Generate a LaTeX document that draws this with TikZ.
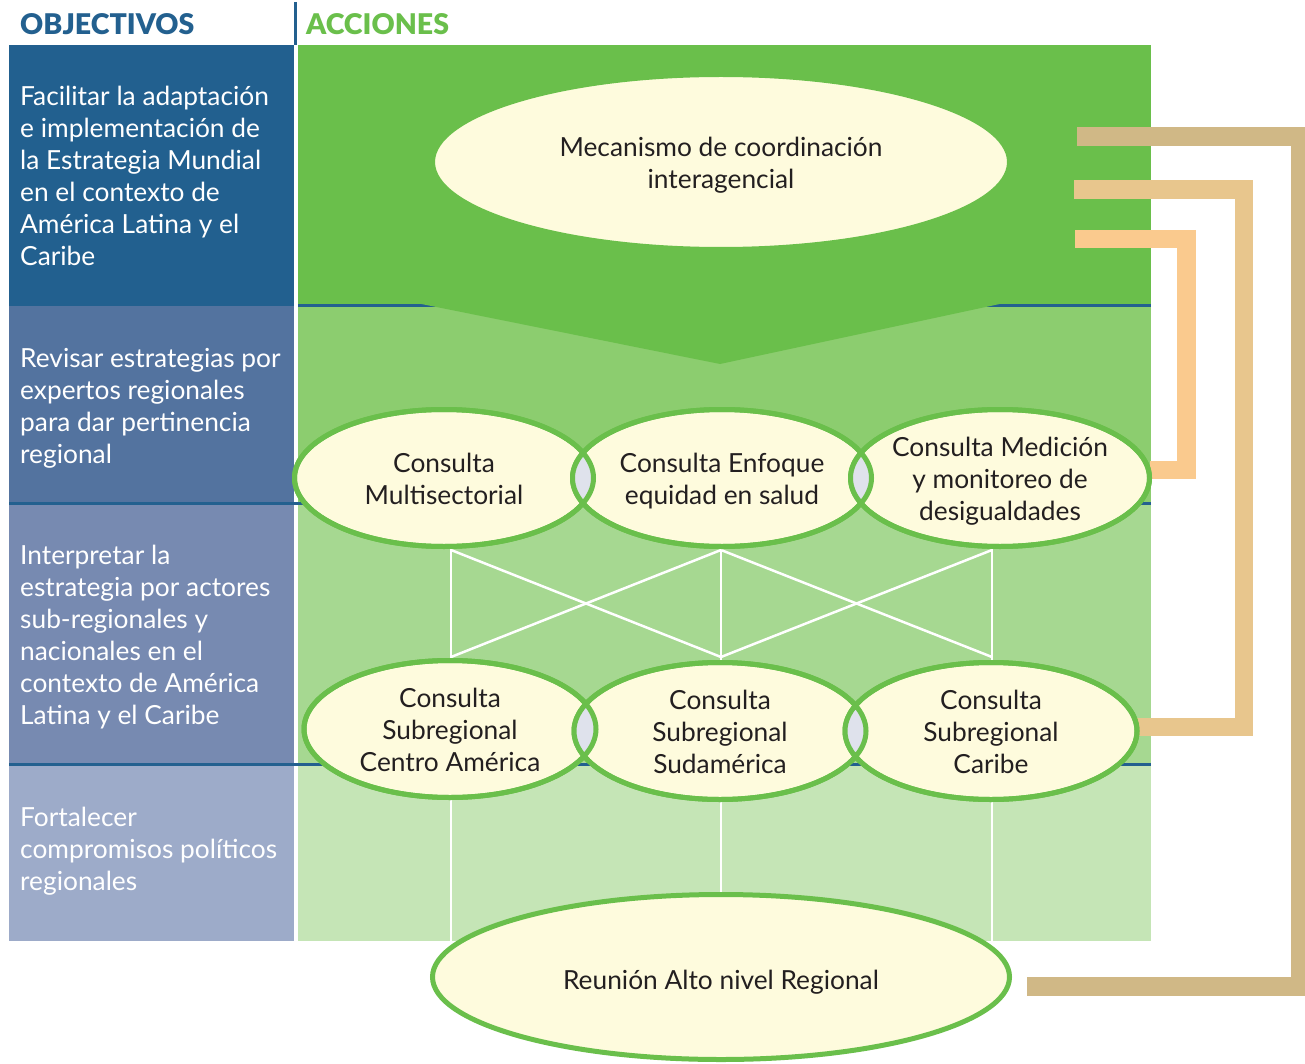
\documentclass[tikz,border=0pt]{standalone}
\usepackage{fontspec}
\setmainfont{Lato}
\newfontfamily\hdfont{Lato Black}
\usetikzlibrary{shapes.geometric}
\pgfdeclarelayer{bg}
\pgfsetlayers{bg,main}
\definecolor{hblue}{HTML}{23608F}
\definecolor{cA}{HTML}{22608F}
\definecolor{cB}{HTML}{53739F}
\definecolor{cC}{HTML}{778AB1}
\definecolor{cD}{HTML}{9DABC9}
\definecolor{gA}{HTML}{6ABF4B}
\definecolor{gB}{HTML}{8CCD6F}
\definecolor{gC}{HTML}{A6D891}
\definecolor{gD}{HTML}{C5E5B6}
\definecolor{egreen}{HTML}{6ABF4B}
\definecolor{ecream}{HTML}{FEFBDD}
\definecolor{etxt}{HTML}{231F20}
\definecolor{lensc}{HTML}{DFE2EC}
\definecolor{bkA}{HTML}{D0B886}
\definecolor{bkB}{HTML}{E8C68D}
\definecolor{bkC}{HTML}{FACA8E}
\newcommand\et[1]{\smash{\makebox[0pt]{\raisebox{-10pt}{\begin{tabular}{@{}c@{}}#1\end{tabular}}}}}
\begin{document}
\begin{tikzpicture}[x=1pt,y=-1pt,
  ell/.style={ellipse, draw=egreen, line width=5pt, fill=ecream, inner sep=0pt, outer sep=0pt, text=etxt, font=\fontsize{26.3}{32}\selectfont},
  rowtwo/.style={ell, minimum width=299pt, minimum height=137pt},
  rowthree/.style={ell, minimum width=292pt, minimum height=137pt},
  bigell/.style={ell, minimum width=577pt},
  obj/.style={anchor=base west, inner sep=0pt, text=white, font=\fontsize{26.3}{32}\selectfont},
  hd/.style={anchor=base west, inner sep=0pt, font=\hdfont\fontsize{28.5}{32}\selectfont},
  wline/.style={draw=white, line width=2.5pt},
  brk/.style={line width=18.5pt, line join=miter},
  sepline/.style={draw=hblue, line width=3pt},
  rowr2/.style={x radius=149.5pt, y radius=68.5pt},
  rowr3/.style={x radius=146pt, y radius=68.5pt}
]
\useasboundingbox (0,0) rectangle (1305,1064);

% headers
\node[hd, text=hblue] (hobj) at (20,35) {OBJECTIVOS};
\node[hd, text=gA] (hacc) at (306,35) {ACCIONES};

% objectives
\node[obj] (o1) at (20,106) {\begin{tabular}[t]{@{}l@{}}Facilitar la adaptación\\e implementación de\\la Estrategia Mundial\\en el contexto de\\América Latina y el\\Caribe\end{tabular}};
\node[obj] (o2) at (20,367) {\begin{tabular}[t]{@{}l@{}}Revisar estrategias por\\expertos regionales\\para dar pertinencia\\regional\end{tabular}};
\node[obj] (o3) at (20,564) {\begin{tabular}[t]{@{}l@{}}Interpretar la\\estrategia por actores\\sub-regionales y\\nacionales en el\\contexto de América\\Latina y el Caribe\end{tabular}};
\node[obj] (o4) at (20,826) {\begin{tabular}[t]{@{}l@{}}Fortalecer\\compromisos políticos\\regionales\end{tabular}};

% ellipses
\node[bigell, minimum height=175pt] (mec) at (721,162) {\et{Mecanismo de coordinación\\interagencial}};
\node[rowtwo] (ms) at (444,478) {\et{Consulta\\Multisectorial}};
\node[rowtwo] (eq) at (722,478) {\et{Consulta Enfoque\\equidad en salud}};
\node[rowtwo] (mm) at (1000,478) {\et{Consulta Medición\\y monitoreo de\\desigualdades}};
\node[rowthree] (ca) at (450,729) {\et{Consulta\\Subregional\\Centro América}};
\node[rowthree] (sa) at (720,731) {\et{Consulta\\Subregional\\Sudamérica}};
\node[rowthree] (cb) at (991,731) {\et{Consulta\\Subregional\\Caribe}};
\node[bigell, minimum height=165pt] (rn) at (721,977) {\raisebox{-5pt}{\et{Reunión Alto nivel Regional}}};

% lenses
\begin{scope}
  \clip (ms.center) ellipse [rowr2];
  \fill[lensc] (eq.center) ellipse [rowr2];
\end{scope}
\begin{scope}
  \clip (eq.center) ellipse [rowr2];
  \fill[lensc] (mm.center) ellipse [rowr2];
\end{scope}
\begin{scope}
  \clip (ca.center) ellipse [rowr3];
  \fill[lensc] (sa.center) ellipse [rowr3];
\end{scope}
\begin{scope}
  \clip (sa.center) ellipse [rowr3];
  \fill[lensc] (cb.center) ellipse [rowr3];
\end{scope}
\draw[draw=egreen, line width=5pt] (ms.center) ellipse [rowr2] (eq.center) ellipse [rowr2] (mm.center) ellipse [rowr2];
\draw[draw=egreen, line width=5pt] (ca.center) ellipse [rowr3] (sa.center) ellipse [rowr3] (cb.center) ellipse [rowr3];

% connector end points
\coordinate (t1) at (451,540);
\coordinate (t2) at (721,540);
\coordinate (t3) at (992,540);
\coordinate (b1) at (451,666);
\coordinate (b2) at (721,666);
\coordinate (b3) at (992,666);
\coordinate (xt1) at (451,550);
\coordinate (xt2) at (721,550);
\coordinate (xt3) at (992,550);
\coordinate (xb1) at (451,657);
\coordinate (xb2) at (721,657);
\coordinate (xb3) at (992,657);
\coordinate (c1) at (451,790);
\coordinate (c2) at (721,790);
\coordinate (c3) at (992,790);
\coordinate (d1) at (451,941);
\coordinate (d3) at (992,941);
\coordinate (oa) at (1077,136.5);
\coordinate (ob) at (1027,986.5);
\coordinate (ox) at (1300,0);
\coordinate (ma) at (1074,189.5);
\coordinate (mx) at (1244,0);
\coordinate (ia) at (1075,239);
\coordinate (ix) at (1186.5,0);
\coordinate (cbe) at ([yshift=4pt]cb.east);
\coordinate (mme) at ([yshift=8pt]mm.east);

\begin{pgfonlayer}{bg}
  % left column
  \fill[cA] (9,45) rectangle (294,306);
  \fill[cB] (9,306) rectangle (294,503);
  \fill[cC] (9,503) rectangle (294,764);
  \fill[cD] (9,764) rectangle (294,941);
  % green area
  \fill[gA] (298,45) rectangle (1151,306);
  \fill[gB] (298,306) rectangle (1151,503);
  \fill[gC] (298,503) rectangle (1151,764);
  \fill[gD] (298,764) rectangle (1151,941);
  % separators
  \draw[sepline] (295,2) -- (295,45);
  \draw[sepline] (298,305.5) -- (1151,305.5);
  \draw[sepline] (9,503) -- (1151,503);
  \draw[sepline] (9,764) -- (1151,764);
  % arrow
  \fill[gA] (419,303.5) -- (720,364) -- (1002,303.5) -- cycle;
  % white connectors
  \draw[wline] (t1) -- (b1);
  \draw[wline] (t2) -- (b2);
  \draw[wline] (t3) -- (b3);
  \draw[wline] (xt1) -- (xb2);
  \draw[wline] (xb1) -- (xt2);
  \draw[wline] (xt2) -- (xb3);
  \draw[wline] (xb2) -- (xt3);
  \draw[wline] (c1) -- (d1);
  \draw[wline] (c2) -- (rn.north);
  \draw[wline] (c3) -- (d3);
  % brackets
  \draw[brk, draw=bkA] (oa) -- (oa -| ox) -- (ox |- ob) -- (ob);
  \draw[brk, draw=bkB] (ma) -- (ma -| mx) -- (mx |- cbe) -- (cbe);
  \draw[brk, draw=bkC] (ia) -- (ia -| ix) -- (ix |- mme) -- (mme);
\end{pgfonlayer}
\end{tikzpicture}
\end{document}
